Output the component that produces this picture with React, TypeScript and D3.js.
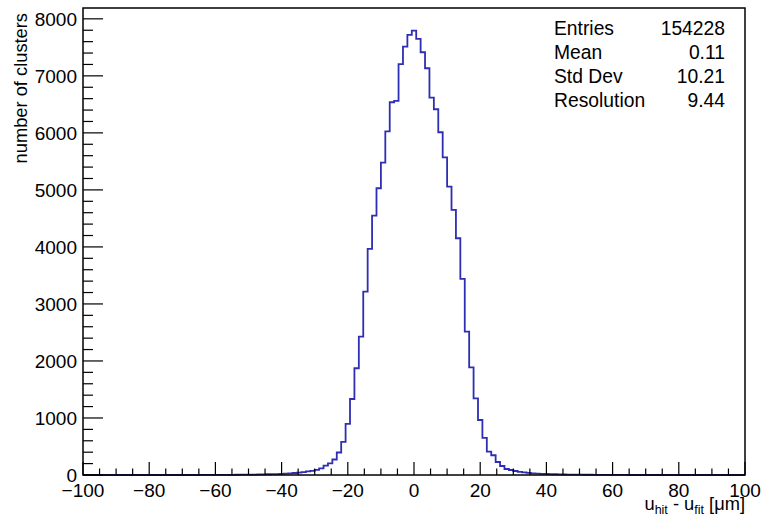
import React from "react";
import * as d3 from "d3";

// ---- data ----
const binWidth = 4 / 3; // bin width in µm, bins centred on k*binWidth
const binIndexStart = -50; // index k of first value in counts
const counts = [
  // k = -50 .. -41
  0, 0, 1, 1, 1, 2, 2, 2, 3, 3,
  // k = -40 .. -31
  4, 5, 6, 7, 8, 10, 11, 13, 15, 17,
  // k = -30 .. -21
  20, 24, 29, 35, 42, 52, 62, 72, 90, 115,
  // k = -20 .. -11
  165, 205, 272, 395, 580, 895, 1333, 1872, 2426, 3215,
  // k = -10 .. -1
  3964, 4548, 5029, 5478, 6025, 6537, 6560, 7204, 7512, 7718,
  // k = 0
  7793,
  // k = 1 .. 10
  7647, 7414, 7133, 6618, 6414, 6011, 5572, 5057, 4648, 4152,
  // k = 11 .. 20
  3438, 2514, 1889, 1345, 965, 650, 409, 346, 228, 158,
  // k = 21 .. 30
  105, 88, 70, 55, 45, 36, 30, 25, 21, 18,
  // k = 31 .. 40
  15, 13, 11, 9, 8, 7, 6, 5, 4, 4,
  // k = 41 .. 50
  3, 3, 2, 2, 2, 1, 1, 1, 0, 0,
];

const xDomain = [-100, 100];
const yDomain = [0, 8190];
const xMajorTicks = [-100, -80, -60, -40, -20, 0, 20, 40, 60, 80, 100];
const xTickLabels = ["\u2212100", "\u221280", "\u221260", "\u221240", "\u221220", "0", "20", "40", "60", "80", "100"];
const yMajorTicks = [0, 1000, 2000, 3000, 4000, 5000, 6000, 7000, 8000];
const yTickLabels = ["0", "1000", "2000", "3000", "4000", "5000", "6000", "7000", "8000"];
const statNames = ["Entries", "Mean", "Std Dev", "Resolution"];
const statValues = ["154228", "0.11", "10.21", "9.44"];

const W = 761;
const H = 517;
const FL = 83, FR = 745, FT = 8, FB = 475;
const FONT = "'Liberation Sans', Arial, Helvetica, sans-serif";

export default function App() {
  const x = d3.scaleLinear().domain(xDomain).range([FL, FR]);
  const y = d3.scaleLinear().domain(yDomain).range([FB, FT]);

  // step points
  const pts: [number, number][] = [];
  pts.push([xDomain[0], 0]);
  counts.forEach((c, i) => {
    const k = binIndexStart + i;
    const lo = (k - 0.5) * binWidth;
    const hi = (k + 0.5) * binWidth;
    pts.push([lo, c]);
    pts.push([hi, c]);
  });
  pts.push([xDomain[1], 0]);
  const line = d3
    .line<[number, number]>()
    .x((d) => x(Math.max(xDomain[0], Math.min(xDomain[1], d[0]))))
    .y((d) => y(d[1]));

  const xMinor = d3.range(-100, 100.01, 5).filter((v) => v % 20 !== 0);
  const yMinor = d3.range(0, 8190, 200).filter((v) => v % 1000 !== 0);

  const xMajLen = 13, xMinLen = 6.5;
  const yMajLen = 20, yMinLen = 10;

  return (
    <svg
      width={W}
      height={H}
      style={{ position: "absolute", left: 0, top: 0, background: "#fff" }}
      fontFamily={FONT}
    >
      <rect x={0} y={0} width={W} height={H} fill="#fff" />
      {/* histogram */}
      <path d={line(pts) || ""} fill="none" stroke="#2e2eb4" strokeWidth={1.8} strokeLinejoin="miter" />

      {/* frame */}
      <rect x={FL} y={FT} width={FR - FL} height={FB - FT} fill="none" stroke="#000" strokeWidth={1.5} />

      {/* x ticks */}
      {xMajorTicks.map((v) => (
        <line key={"xM" + v} x1={x(v)} x2={x(v)} y1={FB} y2={FB - xMajLen} stroke="#000" strokeWidth={1.2} />
      ))}
      {xMinor.map((v) => (
        <line key={"xm" + v} x1={x(v)} x2={x(v)} y1={FB} y2={FB - xMinLen} stroke="#000" strokeWidth={1.2} />
      ))}
      {xMajorTicks.map((v, i) => (
        <text key={"xl" + v} x={x(v)} y={497} textAnchor="middle" fontSize={19} fill="#000">
          {xTickLabels[i]}
        </text>
      ))}

      {/* y ticks */}
      {yMajorTicks.map((v) => (
        <line key={"yM" + v} x1={FL} x2={FL + yMajLen} y1={y(v)} y2={y(v)} stroke="#000" strokeWidth={1.2} />
      ))}
      {yMinor.map((v) => (
        <line key={"ym" + v} x1={FL} x2={FL + yMinLen} y1={y(v)} y2={y(v)} stroke="#000" strokeWidth={1.2} />
      ))}
      {yMajorTicks.map((v, i) => (
        <text key={"yl" + v} x={77} y={y(v) + 6.8} textAnchor="end" fontSize={19} fill="#000">
          {yTickLabels[i]}
        </text>
      ))}

      {/* axis titles */}
      <text transform="translate(27,13) rotate(-90)" textAnchor="end" fontSize={18.3} fill="#000">
        number of clusters
      </text>
      <text x={745} y={510} textAnchor="end" fontSize={18.3} fill="#000">
        u<tspan fontSize={12.5} dy={3.5}>hit</tspan>
        <tspan dy={-3.5}> - u</tspan>
        <tspan fontSize={12.5} dy={3.5}>fit</tspan>
        <tspan dy={-3.5}> [μm]</tspan>
      </text>

      {/* stats */}
      {statNames.map((n, i) => (
        <g key={n}>
          <text x={554} y={35.3 + i * 23.8} fontSize={19.3} fill="#000">
            {n}
          </text>
          <text x={725} y={35.3 + i * 23.8} textAnchor="end" fontSize={19.3} fill="#000">
            {statValues[i]}
          </text>
        </g>
      ))}
    </svg>
  );
}
